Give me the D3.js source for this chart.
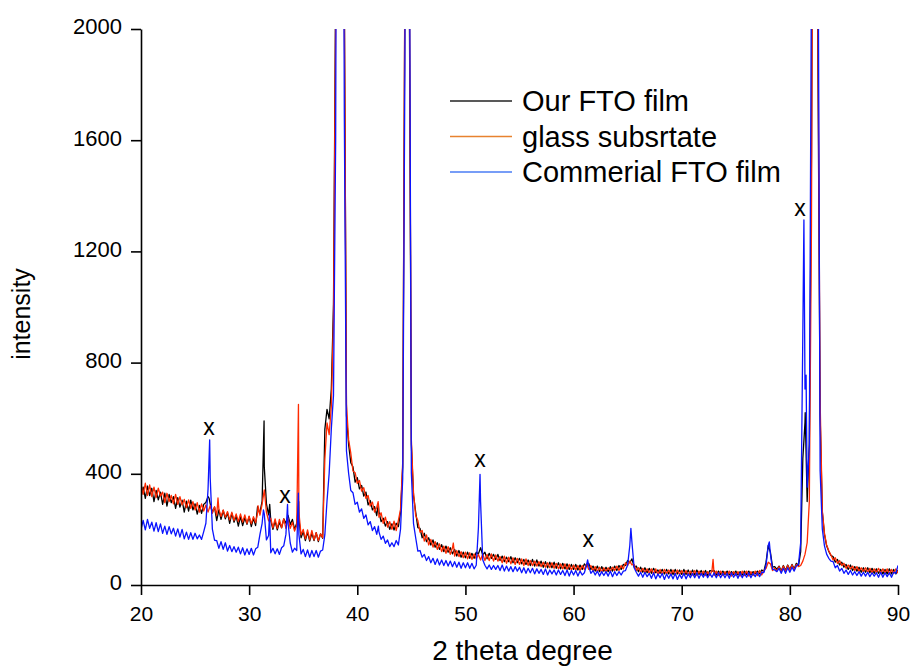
<!DOCTYPE html>
<html>
<head>
<meta charset="utf-8">
<script src="https://cdn.jsdelivr.net/npm/d3@7/dist/d3.min.js"></script>
<style>
  body { margin: 0; background: #fff; }
  text { font-family: "Liberation Sans", Arial, sans-serif; fill: #000; }
</style>
</head>
<body>
<svg id="chart" width="912" height="669"></svg>
<script>
// XRD scans, intensity sampled every 0.2 degree (2θ) from 20 to 90.
const angleStart = 20;
const angleStep = 0.2;

const xTicks = [20, 30, 40, 50, 60, 70, 80, 90];
const yTicks = [0, 400, 800, 1200, 1600, 2000];

const seriesNames = ["Our FTO film", "glass subsrtate", "Commerial FTO film"];

// Our FTO film: one group per degree (5 samples)
const ourFtoGrid = [
  318, 352, 312, 356, 322,  348, 300, 340, 306, 334,  290, 330, 284, 326, 296,
  318, 276, 314, 280, 305,  262, 302, 266, 305, 270,  292, 255, 286, 258, 290,
  297, 318, 292, 262, 280,  232, 270, 236, 268, 238,  260, 222, 258, 226, 248,
  212, 246, 214, 242, 218,  246, 210, 240, 214, 270,  262, 302, 425, 292, 252,
  232, 200, 230, 198, 226,  206, 238, 222, 250, 218,  236, 200, 222, 238, 170,
  192, 160, 190, 158, 186,  160, 188, 156, 184, 168,  560, 632, 598, 705, 1010,
  2150, 4200, 5200, 4100, 2150,  610, 505, 440, 425, 370,  386, 346, 358, 320, 334,
  288, 304, 270, 282, 250,  264, 228, 240, 212, 228,  200, 220, 198, 222, 210,
  262, 425, 2150, 5200, 2250,  505, 322, 262, 206, 204,  170, 186, 156, 170, 144,
  162, 136, 152, 128, 145,  120, 140, 118, 134, 112,  128, 104, 124, 100, 118,
  98, 118, 96, 114, 96,  118, 112, 134, 108, 118,  94, 114, 96, 110, 92,
  110, 88, 104, 84, 100,  84, 102, 80, 98, 80,  96, 76, 92, 74, 90,
  70, 92, 68, 90, 68,  86, 64, 84, 62, 82,  62, 82, 60, 80, 58,
  78, 58, 76, 56, 74,  56, 74, 54, 72, 56,  76, 66, 78, 56, 68,
  50, 68, 48, 66, 50,  64, 48, 66, 50, 68,  52, 70, 56, 74, 70,
  88, 80, 94, 64, 68,  48, 64, 46, 62, 44,  60, 42, 60, 44, 54,
  42, 56, 40, 56, 40,  56, 38, 56, 40, 54,  38, 56, 38, 54, 36,
  54, 36, 54, 38, 52,  36, 52, 34, 52, 50,  52, 36, 50, 38, 50,
  38, 50, 36, 48, 38,  50, 36, 48, 36, 50,  38, 50, 36, 48, 40,
  50, 40, 54, 50, 82,  142, 118, 64, 66, 56,  68, 50, 70, 52, 72,
  56, 74, 58, 78, 70,  120, 455, 585, 300, 510,  1550, 3600, 3900, 1850, 610,
  262, 182, 141, 121, 106,  102, 82, 92, 72, 82,  64, 74, 56, 72, 52,
  66, 50, 64, 46, 62,  46, 62, 44, 60, 42,  58, 42, 56, 40, 56,
  40, 58, 40, 56, 40,  54
];
const ourFtoSpikes = [[26.3, 312], [30.78, 282], [31.38, 590], [31.9, 290], [34.58, 300], [41.95, 292], [81.42, 620]];

// Glass substrate
const glassGrid = [
  362, 326, 366, 322, 360,  318, 352, 314, 348, 320,  334, 296, 330, 300, 322,
  292, 326, 290, 318, 288,  308, 278, 306, 276, 300,  270, 296, 262, 292, 266,
  288, 262, 286, 258, 282,  250, 274, 246, 270, 244,  264, 234, 262, 232, 256,
  228, 256, 226, 252, 222,  248, 220, 246, 224, 262,  251, 291, 342, 261, 231,
  240, 206, 238, 204, 236,  206, 238, 204, 240, 204,  226, 194, 214, 262, 180,
  200, 166, 198, 162, 196,  162, 188, 160, 184, 170,  452, 583, 541, 643, 955,
  2050, 4000, 5100, 4000, 2100,  650, 522, 474, 410, 404,  366, 376, 338, 350, 312,
  322, 284, 298, 262, 280,  244, 260, 222, 244, 208,  228, 200, 230, 196, 232,
  272, 441, 2200, 5300, 2350,  522, 331, 250, 232, 190,  196, 158, 180, 144, 164,
  136, 156, 128, 148, 120,  140, 114, 138, 110, 134,  104, 124, 102, 120, 98,
  118, 94, 116, 92, 112,  94, 110, 90, 112, 88,  110, 88, 112, 86, 108,
  86, 102, 80, 104, 78,  100, 76, 98, 74, 96,  74, 94, 70, 94, 70,
  88, 70, 86, 68, 84,  66, 82, 64, 80, 62,  80, 60, 78, 58, 76,
  58, 76, 56, 74, 54,  72, 54, 70, 52, 70,  56, 76, 56, 70, 50,
  66, 48, 64, 46, 62,  48, 62, 50, 64, 52,  68, 52, 70, 58, 80,
  70, 86, 72, 74, 52,  62, 46, 60, 44, 58,  42, 58, 40, 58, 38,
  56, 38, 56, 40, 54,  38, 54, 36, 54, 38,  52, 36, 52, 36, 50,
  36, 52, 34, 50, 36,  50, 34, 48, 34, 52,  34, 50, 34, 50, 34,
  48, 34, 50, 32, 48,  34, 48, 32, 50, 34,  50, 32, 48, 34, 50,
  34, 52, 36, 52, 60,  82, 76, 52, 60, 50,  66, 48, 68, 48, 70,
  52, 72, 54, 74, 66,  70, 86, 110, 152, 300,  1300, 3600, 3900, 2000, 660,
  268, 186, 144, 123, 108,  90, 98, 78, 88, 70,  78, 60, 72, 58, 68,
  52, 66, 50, 62, 48,  62, 46, 60, 44, 58,  44, 60, 42, 58, 44,
  58, 40, 56, 42, 58,  42
];
const glassSpikes = [[27.12, 313], [30.82, 285], [34.56, 650], [41.93, 300], [48.88, 151], [72.9, 92]];

// Commercial FTO film
const commercialGrid = [
  200, 232, 198, 236, 204,  226, 194, 224, 192, 220,  186, 212, 182, 210, 184,
  204, 176, 202, 172, 200,  166, 190, 164, 188, 164,  186, 166, 180, 164, 192,
  222, 345, 385, 201, 161,  160, 132, 156, 128, 152,  122, 142, 120, 138, 118,
  136, 112, 134, 108, 130,  110, 132, 108, 130, 136,  182, 222, 256, 162, 178,
  116, 132, 112, 130, 110,  134, 141, 182, 222, 151,  118, 132, 124, 182, 112,
  128, 102, 126, 100, 124,  102, 124, 100, 122, 126,  181, 302, 402, 562, 682,
  1600, 4500, 5200, 4300, 1700,  482, 401, 340, 332, 290,  298, 262, 274, 240, 252,
  216, 228, 196, 210, 182,  192, 164, 176, 150, 162,  138, 152, 138, 160, 144,
  201, 382, 1850, 5300, 2650,  402, 221, 170, 122, 124,  100, 110, 88, 102, 80,
  96, 74, 94, 72, 90,  70, 88, 68, 86, 66,  84, 64, 82, 60, 80,
  62, 80, 60, 78, 58,  71, 205, 300, 91, 71,  58, 72, 56, 70, 56,
  70, 52, 72, 50, 68,  50, 66, 48, 66, 50,  64, 44, 62, 42, 60,
  44, 60, 40, 58, 42,  56, 38, 58, 36, 54,  40, 54, 36, 54, 38,
  52, 34, 54, 32, 52,  36, 52, 32, 50, 36,  44, 72, 68, 42, 52,
  36, 50, 32, 48, 34,  48, 32, 50, 30, 48,  34, 48, 36, 50, 52,
  72, 142, 152, 62, 46,  32, 46, 28, 46, 30,  42, 24, 44, 22, 40,
  26, 42, 20, 40, 24,  40, 22, 42, 20, 38,  24, 42, 22, 40, 26,
  42, 26, 44, 24, 42,  28, 44, 26, 42, 28,  44, 26, 44, 26, 42,
  26, 42, 24, 44, 28,  42, 24, 44, 26, 42,  28, 44, 26, 42, 30,
  44, 30, 46, 45, 72,  142, 112, 56, 54, 48,  60, 42, 60, 42, 62,
  46, 64, 50, 68, 75,  152, 910, 705, 352, 500,  2250, 4500, 4800, 2500, 410,
  202, 141, 111, 96, 86,  84, 62, 70, 50, 60,  42, 54, 38, 52, 36,
  48, 34, 48, 32, 46,  32, 46, 30, 44, 32,  44, 28, 46, 28, 44,
  30, 44, 28, 46, 42,  70
];
const commercialSpikes = [[26.35, 522], [31.32, 270], [31.88, 255], [33.55, 290], [34.55, 330], [41.95, 212], [51.35, 398], [61.3, 90], [65.3, 204], [78.1, 155], [81.3, 1313], [81.5, 755]];

// "x" reflection markers: [2θ, intensity] of each label
const markerLabels = [[26.29, 561], [33.32, 315], [51.35, 446], [61.35, 158], [80.94, 1349]];

const colors = ["#000000", "#ff2a00", "#0a14ff"];
const legendColors = ["#222222", "#e8822f", "#4a7cf5"];

// ---------------------------------------------------------------
const plot = { left: 141, right: 898, top: 29, bottom: 585 };

const x = d3.scaleLinear().domain([20, 90]).range([plot.left, plot.right]);
const y = d3.scaleLinear().domain([0, 2000]).range([plot.bottom, plot.top]);

const svg = d3.select("#chart");

function buildSeries(grid, spikes) {
  const pts = grid.map((v, i) => [angleStart + i * angleStep, v]).concat(spikes);
  return pts.sort((a, b) => a[0] - b[0]);
}

const series = [
  buildSeries(ourFtoGrid, ourFtoSpikes),
  buildSeries(glassGrid, glassSpikes),
  buildSeries(commercialGrid, commercialSpikes)
];

svg.append("defs").append("clipPath").attr("id", "plotClip")
  .append("rect")
  .attr("x", plot.left).attr("y", plot.top)
  .attr("width", plot.right - plot.left).attr("height", plot.bottom - plot.top);

const line = d3.line().x(d => x(d[0])).y(d => y(d[1]));

const lines = svg.append("g").attr("clip-path", "url(#plotClip)");
series.forEach((s, i) => {
  lines.append("path")
    .datum(s)
    .attr("fill", "none")
    .attr("stroke", colors[i])
    .attr("stroke-width", 1.3)
    .attr("stroke-linejoin", "round")
    .attr("d", line);
});

// axes
const xAxis = svg.append("g")
  .attr("transform", `translate(0,${plot.bottom})`)
  .call(d3.axisBottom(x).tickValues(xTicks).tickFormat(d3.format("d"))
    .tickSize(10).tickSizeOuter(0).tickPadding(11));
xAxis.selectAll("text").style("font-size", "21px");

const yAxis = svg.append("g")
  .attr("transform", `translate(${plot.left},0)`)
  .call(d3.axisLeft(y).tickValues(yTicks).tickFormat(d3.format("d"))
    .tickSize(10).tickSizeOuter(0).tickPadding(9));
yAxis.selectAll("text").style("font-size", "22px").attr("dy", "0.22em");

[xAxis, yAxis].forEach(a => {
  a.select(".domain").attr("stroke", "#000").attr("stroke-width", 1.6);
  a.selectAll(".tick line").attr("stroke", "#000").attr("stroke-width", 1.6);
  a.selectAll("text").attr("fill", "#000").style("font-family", '"Liberation Sans", Arial, sans-serif');
});

// axis titles
svg.append("text")
  .attr("x", (plot.left + plot.right) / 2 + 3)
  .attr("y", 660)
  .attr("text-anchor", "middle")
  .style("font-size", "28px")
  .text("2 theta degree");

svg.append("text")
  .attr("transform", "translate(30,314) rotate(-90)")
  .attr("text-anchor", "middle")
  .style("font-size", "25px")
  .text("intensity");

// reflection markers
svg.append("g").selectAll("text")
  .data(markerLabels)
  .join("text")
  .attr("x", d => x(d[0]))
  .attr("y", d => y(d[1]))
  .attr("dy", "0.26em")
  .attr("text-anchor", "middle")
  .style("font-size", "23px")
  .text("x");

// legend
const legend = svg.append("g");
const legendRows = [101, 136.5, 172];
seriesNames.forEach((name, i) => {
  legend.append("line")
    .attr("x1", 450).attr("x2", 512)
    .attr("y1", legendRows[i]).attr("y2", legendRows[i])
    .attr("stroke", legendColors[i])
    .attr("stroke-width", 1.4);
  legend.append("text")
    .attr("x", 522)
    .attr("y", legendRows[i])
    .attr("dy", "0.36em")
    .style("font-size", "29px")
    .text(name);
});
</script>
</body>
</html>
